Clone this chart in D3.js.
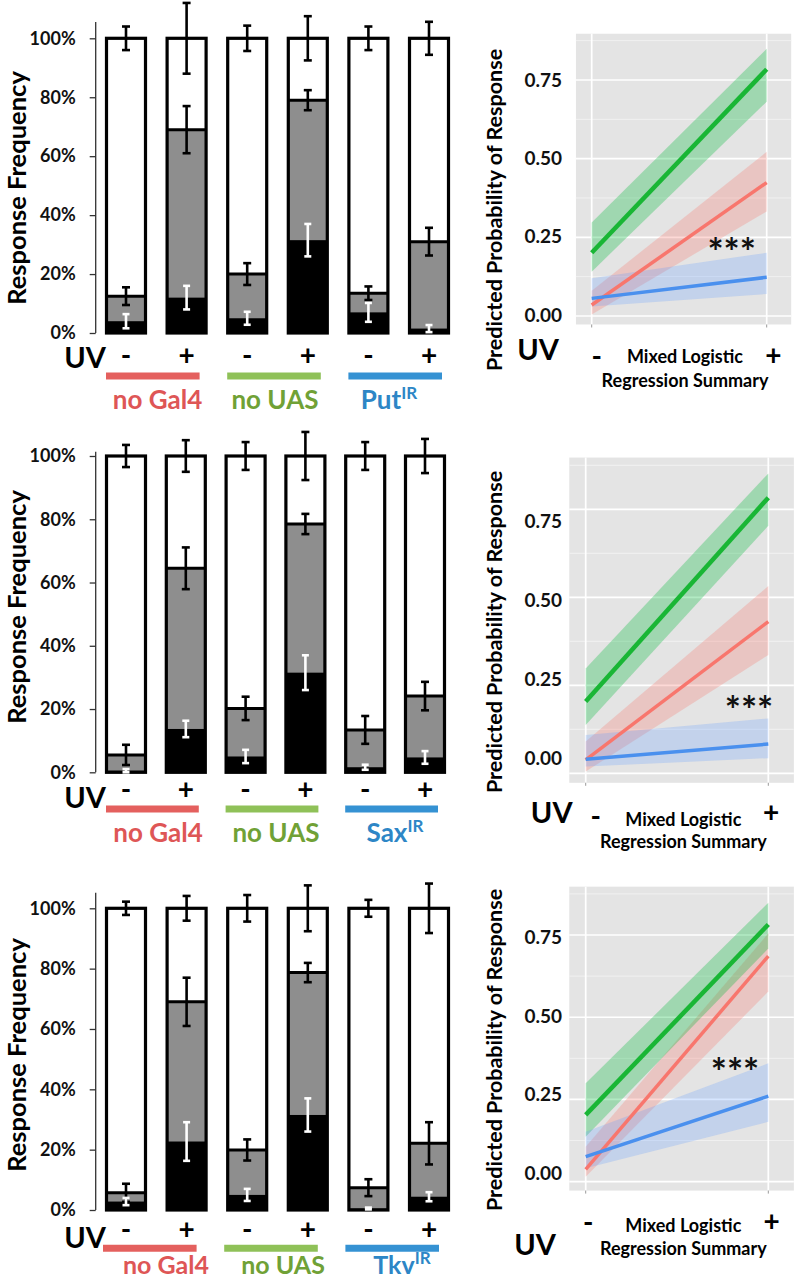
<!DOCTYPE html>
<html><head><meta charset="utf-8">
<script src="https://cdn.jsdelivr.net/npm/d3@7"></script>
<style>
body{margin:0;background:#fff}
svg{display:block}
text{font-family:Lato,"Open Sans",sans-serif;font-weight:bold}
</style>
</head><body>
<svg id="c" width="795" height="1280"></svg>
<script>
// ---------------- DATA ----------------
const uvLevels = ["-", "+", "-", "+", "-", "+"];
const groupNames = ["no Gal4", "no UAS"];
const rnaiNames = ["Put", "Sax", "Tkv"];
const pctTicks = [0, 20, 40, 60, 80, 100];
const probTicks = [0, 0.25, 0.5, 0.75];
const probMinor = [0.125, 0.375, 0.625, 0.875];
const uvX = [0, 1]; // "-" and "+"

// stacked bars (percent): top of gray segment, top of black segment, error half-widths
const put_grayTop  = [12.5, 69, 20, 79, 13.5, 31];
const put_blackTop = [4, 12, 5, 31.5, 7, 1.5];
const put_errTop   = [4, 12, 4.3, 7.5, 4, 5.6];
const put_errGray  = [3, 8, 3.7, 3.4, 2.3, 4.7];
const put_errBlack = [2.4, 4, 2.2, 5.5, 3.2, 1.2];

const sax_grayTop  = [5.5, 64.5, 20.2, 78.5, 13.4, 24.1];
const sax_blackTop = [0.5, 13.7, 5, 31.5, 1.6, 4.7];
const sax_errTop   = [3.5, 5, 4.4, 7.6, 4.4, 5.4];
const sax_errGray  = [3.2, 6.6, 3.7, 3.2, 4.4, 4.5];
const sax_errBlack = [0.5, 2.6, 2.1, 5.5, 0.8, 2];

const tkv_grayTop  = [5.7, 69, 19.9, 78.7, 7.4, 22.1];
const tkv_blackTop = [2.8, 22.7, 5, 31.5, 0.5, 4.4];
const tkv_errTop   = [2.2, 4.1, 4.4, 7.6, 2.8, 8.2];
const tkv_errGray  = [3, 8, 3.5, 3.2, 2.8, 7];
const tkv_errBlack = [1.2, 6.4, 2, 5.5, 0.3, 1.5];

// mixed logistic regression predictions, order: [no Gal4, no UAS, RNAi]
const put_predMinus = [0.035, 0.201, 0.056];
const put_predPlus  = [0.424, 0.784, 0.123];
const put_loMinus   = [0.005, 0.141, 0.03];
const put_hiMinus   = [0.08, 0.297, 0.12];
const put_loPlus    = [0.332, 0.681, 0.07];
const put_hiPlus    = [0.522, 0.849, 0.201];

const sax_predMinus = [0.038, 0.204, 0.040];
const sax_predPlus  = [0.431, 0.783, 0.083];
const sax_loMinus   = [0.005, 0.137, 0.019];
const sax_hiMinus   = [0.09, 0.298, 0.109];
const sax_loPlus    = [0.336, 0.703, 0.043];
const sax_hiPlus    = [0.532, 0.852, 0.156];

const tkv_predMinus = [0.0375, 0.203, 0.076];
const tkv_predPlus  = [0.686, 0.782, 0.26];
const tkv_loMinus   = [0.015, 0.137, 0.041];
const tkv_hiMinus   = [0.106, 0.299, 0.152];
const tkv_loPlus    = [0.578, 0.709, 0.182];
const tkv_hiPlus    = [0.755, 0.848, 0.36];

// ---------------- STYLE / LAYOUT ----------------
const groupLineColors = ["#e4605e", "#8fc158", "#3592d3"];
const groupTextColors = ["#de5656", "#70a136", "#2d86c6"];
const lineColors = ["#F8766D", "#19b635", "#4a90ee"];
const bandColors = ["#F8766D", "#00BA38", "#619CFF"];
const bandOpacity = [0.28, 0.3, 0.25];
const lineWidths = [3.5, 4.5, 3.5];

const svg = d3.select("#c");
svg.append("rect").attr("width", 795).attr("height", 1280).attr("fill", "#fff");

const leftLayout = [
  {y0:333, y100:38.3, yTop:22, xFirst:126, xLast:429, lineY:376, labelY:409, uvY:368, pmY:356, yLabY:188, lineShift:0, labX:[157.5,275,389], labFs:26},
  {y0:772.3, y100:456, yTop:451.7, xFirst:126, xLast:425, lineY:809, labelY:841.7, uvY:807.5, pmY:790, yLabY:607, lineShift:0, labX:[158,276,395], labFs:26},
  {y0:1210, y100:908.3, yTop:892.7, xFirst:126, xLast:429, lineY:1248.3, labelY:1273.5, uvY:1248.3, pmY:1230, yLabY:1055, lineShift:-3, labX:[166,283,402], labFs:25}
];
const rightLayout = [
  {xM:591.7, xP:766.7, y0:316, y75:80, ly0:315, ly75:80, uvX:538, uvY:360, mX:596.7, mY:356.7, pX:773.3, pY:356, mixY:363.3, regY:386.7, tX:685, yLabY:210, sX:731.7, sY:248.3},
  {xM:585.7, xP:768.3, y0:773.3, y75:509.3, ly0:758.3, ly75:521.7, uvX:551.7, uvY:823.3, mX:595.7, mY:816.7, pX:771, pY:813.3, mixY:826, regY:848.3, tX:683.3, yLabY:632, sX:749, sY:706},
  {xM:585.7, xP:768.3, y0:1181.7, y75:935, ly0:1173.3, ly75:937.3, uvX:535, uvY:1255, mX:588.3, mY:1223.3, pX:771.7, pY:1221.7, mixY:1231.7, regY:1255, tX:683.3, yLabY:1050, sX:735, sY:1068}
];

const barSets = [
  {gray:put_grayTop, black:put_blackTop, eT:put_errTop, eG:put_errGray, eB:put_errBlack},
  {gray:sax_grayTop, black:sax_blackTop, eT:sax_errTop, eG:sax_errGray, eB:sax_errBlack},
  {gray:tkv_grayTop, black:tkv_blackTop, eT:tkv_errTop, eG:tkv_errGray, eB:tkv_errBlack}
];
const predSets = [
  {pm:put_predMinus, pp:put_predPlus, lm:put_loMinus, hm:put_hiMinus, lp:put_loPlus, hp:put_hiPlus},
  {pm:sax_predMinus, pp:sax_predPlus, lm:sax_loMinus, hm:sax_hiMinus, lp:sax_loPlus, hp:sax_hiPlus},
  {pm:tkv_predMinus, pp:tkv_predPlus, lm:tkv_loMinus, hm:tkv_hiMinus, lp:tkv_loPlus, hp:tkv_hiPlus}
];

function errBar(g, x, yScale, c, e, color, cap) {
  const y1 = yScale(c + e), y2 = yScale(c - e);
  g.append("line").attr("x1", x).attr("x2", x).attr("y1", y1).attr("y2", y2).attr("stroke", color).attr("stroke-width", 2.6);
  g.append("line").attr("x1", x - cap).attr("x2", x + cap).attr("y1", y1).attr("y2", y1).attr("stroke", color).attr("stroke-width", 2.6);
  g.append("line").attr("x1", x - cap).attr("x2", x + cap).attr("y1", y2).attr("y2", y2).attr("stroke", color).attr("stroke-width", 2.6);
}

function drawLeft(p) {
  const L = leftLayout[p], D = barSets[p];
  const g = svg.append("g");
  const x = d3.scalePoint().domain(d3.range(uvLevels.length)).range([L.xFirst, L.xLast]);
  const y = d3.scaleLinear().domain([0, 100]).range([L.y0, L.y100]);
  const bw = 39;
  const axX = 95.7;
  const ax = g.append("g").attr("transform", `translate(${axX},0)`)
    .call(d3.axisLeft(y).tickValues(pctTicks).tickSize(6).tickSizeOuter(0).tickPadding(14).tickFormat(d => d + "%"));
  ax.select(".domain").remove();
  ax.selectAll(".tick line").attr("stroke", "#333").attr("stroke-width", 1.3);
  ax.selectAll(".tick text").attr("font-size", 18).attr("fill", "#111").attr("font-family", "Lato").attr("font-weight", "bold");
  g.append("line").attr("x1", axX).attr("x2", axX).attr("y1", L.yTop).attr("y2", L.y0).attr("stroke", "#333").attr("stroke-width", 1.3);

  uvLevels.forEach((u, i) => {
    const cx = x(i);
    g.append("rect").attr("x", cx - bw/2).attr("width", bw).attr("y", y(100)).attr("height", y(0) - y(100)).attr("fill", "#fff");
    g.append("rect").attr("x", cx - bw/2).attr("width", bw).attr("y", y(D.gray[i])).attr("height", y(0) - y(D.gray[i])).attr("fill", "#8e8e8e");
    g.append("rect").attr("x", cx - bw/2).attr("width", bw).attr("y", y(D.black[i])).attr("height", y(0) - y(D.black[i])).attr("fill", "#000");
    g.append("rect").attr("x", cx - bw/2).attr("width", bw).attr("y", y(100)).attr("height", y(0) - y(100)).attr("fill", "none").attr("stroke", "#000").attr("stroke-width", 3.2);
    g.append("line").attr("x1", cx - bw/2).attr("x2", cx + bw/2).attr("y1", y(D.gray[i])).attr("y2", y(D.gray[i])).attr("stroke", "#000").attr("stroke-width", 3);
    errBar(g, cx, y, 100, D.eT[i], "#000", 4);
    errBar(g, cx, y, D.gray[i], D.eG[i], "#000", 4);
    errBar(g, cx, y, D.black[i], D.eB[i], "#fff", 3.5);
    g.append("text").attr("x", cx).attr("y", L.pmY + 9).attr("text-anchor", "middle").attr("font-size", 28).attr("fill", "#000").text(u);
  });
  g.append("text").attr("x", 85).attr("y", L.uvY).attr("text-anchor", "middle").attr("font-size", 29).attr("fill", "#000").text("UV");
  g.append("text").attr("transform", `translate(16,${L.yLabY}) rotate(-90)`).attr("text-anchor", "middle").attr("dominant-baseline", "central").attr("font-size", 25.5).attr("fill", "#000").text("Response Frequency");

  for (let k = 0; k < 3; k++) {
    const xa = x(2*k) - 20 + L.lineShift, xb = x(2*k + 1) + 13 + L.lineShift;
    g.append("line").attr("x1", xa).attr("x2", xb).attr("y1", L.lineY).attr("y2", L.lineY).attr("stroke", groupLineColors[k]).attr("stroke-width", 7);
    const t = g.append("text").attr("x", L.labX[k]).attr("y", L.labelY).attr("text-anchor", "middle").attr("font-size", L.labFs).attr("fill", groupTextColors[k]);
    if (k < 2) t.text(groupNames[k]);
    else { t.append("tspan").text(rnaiNames[p]); t.append("tspan").attr("dy", -10).attr("font-size", 17).text("IR"); }
  }
}

function drawRight(p) {
  const R = rightLayout[p], D = predSets[p];
  const g = svg.append("g");
  const x = d3.scaleLinear().domain([0, 1]).range([R.xM, R.xP]);
  const y = d3.scaleLinear().domain([0, 0.75]).range([R.y0, R.y75]);
  const yl = d3.scaleLinear().domain([0, 0.75]).range([R.ly0, R.ly75]);
  const xl = x(-0.09), xr = Math.min(x(1.14), 795);
  g.append("rect").attr("x", xl).attr("width", xr - xl).attr("y", y(0.897)).attr("height", y(-0.027) - y(0.897)).attr("fill", "#e4e4e4");
  probMinor.forEach(v => g.append("line").attr("x1", xl).attr("x2", xr).attr("y1", y(v)).attr("y2", y(v)).attr("stroke", "#f3f3f3").attr("stroke-width", 0.9));
  probTicks.forEach(v => g.append("line").attr("x1", xl).attr("x2", xr).attr("y1", y(v)).attr("y2", y(v)).attr("stroke", "#fff").attr("stroke-width", 1.7));
  uvX.forEach(v => {
    g.append("line").attr("x1", x(v)).attr("x2", x(v)).attr("y1", y(0.897)).attr("y2", y(-0.027)).attr("stroke", "#fff").attr("stroke-width", 1.7);
    g.append("line").attr("x1", x(v)).attr("x2", x(v)).attr("y1", y(-0.027)).attr("y2", y(-0.027) + 3).attr("stroke", "#999").attr("stroke-width", 1);
  });
  const area = d3.area().x(d => x(d.x)).y0(d => y(d.lo)).y1(d => y(d.hi));
  const line = d3.line().x(d => x(d.x)).y(d => y(d.v));
  for (let k = 0; k < 3; k++) {
    const pts = [{x:uvX[0], lo:D.lm[k], hi:D.hm[k]}, {x:uvX[1], lo:D.lp[k], hi:D.hp[k]}];
    g.append("path").attr("d", area(pts)).attr("fill", bandColors[k]).attr("fill-opacity", bandOpacity[k]);
  }
  for (let k = 0; k < 3; k++) {
    const pts = [{x:uvX[0], v:D.pm[k]}, {x:uvX[1], v:D.pp[k]}];
    g.append("path").attr("d", line(pts)).attr("fill", "none").attr("stroke", lineColors[k]).attr("stroke-width", lineWidths[k]);
  }
  const ax = g.append("g").attr("transform", "translate(562,0)")
    .call(d3.axisLeft(yl).tickValues(probTicks).tickSize(0).tickPadding(0).tickFormat(d3.format(".2f")));
  ax.select(".domain").remove();
  ax.selectAll(".tick text").attr("font-size", 19).attr("fill", "#111").attr("font-family", "Lato").attr("font-weight", "bold");

  g.append("text").attr("x", R.sX).attr("y", R.sY + 18).attr("text-anchor", "middle").attr("font-size", 38).attr("fill", "#111").text("***");
  g.append("text").attr("transform", `translate(494,${R.yLabY}) rotate(-90)`).attr("text-anchor", "middle").attr("dominant-baseline", "central").attr("font-size", 21.5).attr("fill", "#000").text("Predicted Probability of Response");
  g.append("text").attr("x", R.uvX).attr("y", R.uvY).attr("text-anchor", "middle").attr("font-size", 29).attr("fill", "#000").text("UV");
  g.append("text").attr("x", R.mX).attr("y", R.mY + 9).attr("text-anchor", "middle").attr("font-size", 28).attr("fill", "#000").text(uvLevels[0]);
  g.append("text").attr("x", R.pX).attr("y", R.pY + 9).attr("text-anchor", "middle").attr("font-size", 28).attr("fill", "#000").text(uvLevels[1]);
  g.append("text").attr("x", R.tX).attr("y", R.mixY).attr("text-anchor", "middle").attr("font-size", 18).attr("fill", "#000").text("Mixed Logistic");
  g.append("text").attr("x", R.tX).attr("y", R.regY).attr("text-anchor", "middle").attr("font-size", 18).attr("fill", "#000").text("Regression Summary");
}

for (let p = 0; p < 3; p++) { drawLeft(p); drawRight(p); }
</script>
</body></html>
